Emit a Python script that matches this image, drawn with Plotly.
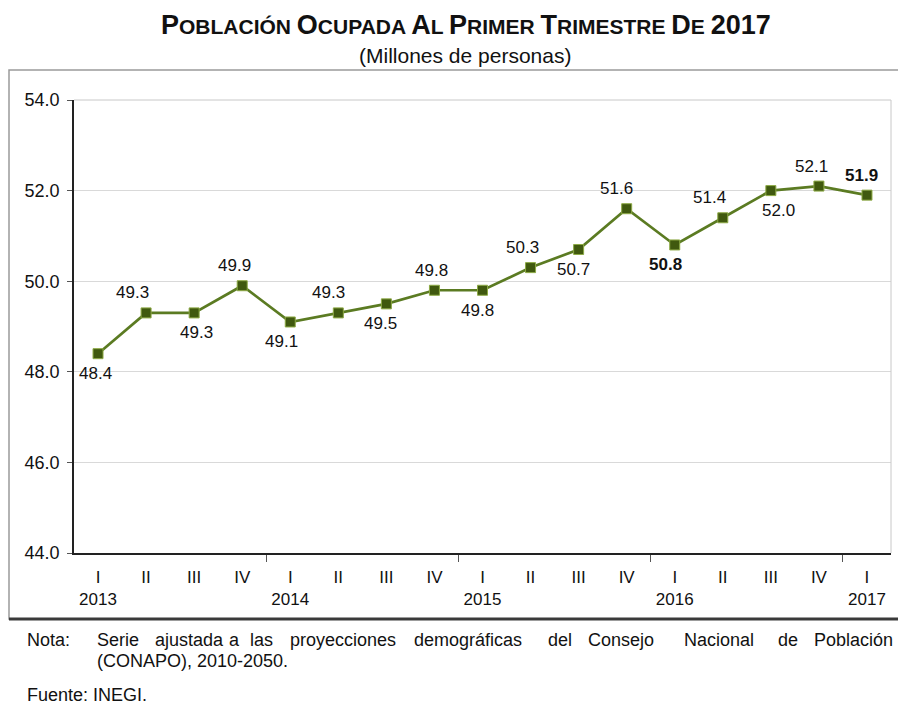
import plotly.graph_objects as go

# Población ocupada, millones de personas (trimestral)
QUARTERS = ["I", "II", "III", "IV", "I", "II", "III", "IV", "I", "II", "III", "IV",
            "I", "II", "III", "IV", "I"]
YEARS = ["2013", "", "", "", "2014", "", "", "", "2015", "", "", "",
         "2016", "", "", "", "2017"]
VALUES = [48.4, 49.3, 49.3, 49.9, 49.1, 49.3, 49.5, 49.8, 49.8, 50.3, 50.7, 51.6,
          50.8, 51.4, 52.0, 52.1, 51.9]
BOLD = [12, 16]

# label placement (style only): +1 above, -1 below, and horizontal nudge in px
LABEL_SIDE = [-1, 1, -1, 1, -1, 1, -1, 1, -1, 1, -1, 1, -1, 1, -1, 1, 1]
LABEL_NUDGE = [-3, -14, 2, -8, -9, -10, -6, -3, -5, -8, -5, -10, -9, -13, 8, -7, -5]

OFF = 8  # page body margin
W, H = 906 - OFF, 706 - OFF
L, R, T, B = 74, 891, 100, 553  # plot area in page pixels

FONT = "Liberation Sans, Arial, sans-serif"


def px(x):
    return (x - L) / (R - L)


def py(y):
    return (B - y) / (B - T)


x = list(range(len(VALUES)))
ticktext = [q + ("<br>" + y if y else "") for q, y in zip(QUARTERS, YEARS)]

fig = go.Figure()
fig.add_trace(go.Scatter(
    x=x, y=VALUES, mode="lines+markers",
    line=dict(color="#5B7B22", width=2.7),
    marker=dict(symbol="square", size=10, color="#40590F",
                line=dict(color="#8DAA45", width=1)),
    hoverinfo="skip", showlegend=False,
))

annotations = []
for i, v in enumerate(VALUES):
    txt = f"{v:.1f}"
    if i in BOLD:
        txt = f"<b>{txt}</b>"
    annotations.append(dict(
        x=i, y=v, xref="x", yref="y", text=txt, showarrow=False,
        xshift=LABEL_NUDGE[i], yshift=20 * LABEL_SIDE[i],
        font=dict(family=FONT, size=17, color="#111111"),
        xanchor="center", yanchor="middle",
    ))

# title and subtitle
big, small = 27, 21
words = [("P", "OBLACIÓN"), ("O", "CUPADA"), ("A", "L"), ("P", "RIMER"),
         ("T", "RIMESTRE"), ("D", "E"), ("2017", "")]
title = " ".join(
    f"<span style='font-size:{big}px'>{a}</span>{b}" for a, b in words)
annotations.append(dict(
    x=px(466), y=py(25), xref="paper", yref="paper", text=f"<b>{title}</b>",
    showarrow=False, xanchor="center", yanchor="middle",
    font=dict(family=FONT, size=small, color="#111111"),
))
annotations.append(dict(
    x=px(465), y=py(56), xref="paper", yref="paper", text="(Millones de personas)",
    showarrow=False, xanchor="center", yanchor="middle",
    font=dict(family=FONT, size=21, color="#111111"),
))

# footer (justified first line, one word per annotation)
note_words = [("Serie", 95), ("ajustada", 153), ("a", 227), ("las", 248),
              ("proyecciones", 288), ("demográficas", 412), ("del", 546),
              ("Consejo", 586), ("Nacional", 682), ("de", 776), ("Población", 812)]
foot = [("Nota:", 25, 640)] + [(w, xx, 640) for w, xx in note_words] + [
    ("(CONAPO), 2010-2050.", 95, 661), ("Fuente: INEGI.", 25, 695)]
for txt, xx, yy in foot:
    annotations.append(dict(
        x=px(xx), y=py(yy), xref="paper", yref="paper", text=txt,
        showarrow=False, xanchor="left", yanchor="middle",
        font=dict(family=FONT, size=18, color="#111111"),
    ))

shapes = [
    # outer frame
    dict(type="rect", xref="paper", yref="paper",
         x0=px(9), x1=px(915), y0=py(619), y1=py(70),
         line=dict(color="#9A9A9A", width=1.5), layer="below"),
    dict(type="line", xref="paper", yref="paper",
         x0=px(9), x1=px(915), y0=py(619), y1=py(619),
         line=dict(color="#3A3A3A", width=3)),
    # plot area top/right border
    dict(type="line", xref="paper", yref="paper", x0=0, x1=1, y0=1, y1=1,
         line=dict(color="#C8C8C8", width=1)),
    dict(type="line", xref="paper", yref="paper", x0=1, x1=1, y0=0, y1=1,
         line=dict(color="#C8C8C8", width=1)),
]

fig.update_layout(
    width=W, height=H,
    margin=dict(l=L - OFF, r=W - (R - OFF), t=T - OFF, b=H - (B - OFF),
                autoexpand=False),
    paper_bgcolor="white", plot_bgcolor="white",
    annotations=annotations, shapes=shapes,
    font=dict(family=FONT, color="#111111"),
)
fig.update_xaxes(
    range=[-0.5, len(VALUES) - 0.5], tickvals=x, ticktext=ticktext,
    ticks="", showgrid=False, zeroline=False,
    showline=True, linecolor="#222222", linewidth=1.5,
    tickfont=dict(family=FONT, size=17, color="#111111"),
    ticklabelstandoff=8,
    minor=dict(tickvals=[3.5, 7.5, 11.5, 15.5], ticks="outside", ticklen=7,
               tickcolor="#555555", tickwidth=1, showgrid=False),
)
fig.update_yaxes(
    range=[44, 54], dtick=2, tick0=44, tickformat=".1f",
    showgrid=True, gridcolor="#D9D9D9", gridwidth=1, zeroline=False,
    showline=True, linecolor="#222222", linewidth=1.5,
    ticks="outside", ticklen=5, tickcolor="#555555",
    ticklabelstandoff=4,
    tickfont=dict(family=FONT, size=18, color="#111111"),
)

fig.write_html("out.html")
